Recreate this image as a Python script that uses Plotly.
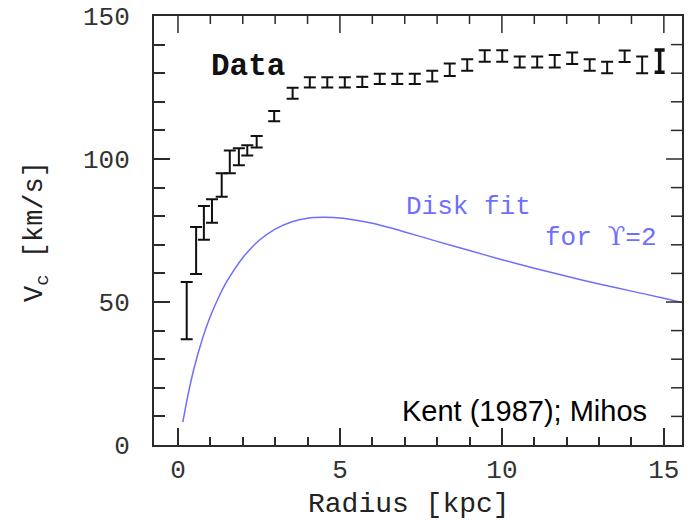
import plotly.graph_objects as go

# Rotation curve data (Radius [kpc], V_c [km/s], error)
radius = [0.27, 0.56, 0.80, 1.05, 1.35, 1.60, 1.88, 2.14, 2.43, 2.97, 3.54,
          4.07, 4.61, 5.15, 5.69, 6.23, 6.77, 7.31, 7.85, 8.39, 8.93, 9.47,
          10.01, 10.55, 11.09, 11.63, 12.17, 12.71, 13.25, 13.79, 14.33, 14.87]
vel = [47.0, 68.0, 77.7, 81.8, 90.9, 99.0, 100.8, 103.0, 106.0, 115.0, 123.0,
       126.8, 126.8, 126.8, 127.0, 128.0, 128.0, 128.0, 129.0, 131.2, 132.9, 136.0,
       136.0, 133.9, 133.9, 134.2, 135.2, 132.9, 132.0, 135.9, 132.9, 134.2]
err = [10.0, 8.2, 5.9, 4.1, 4.1, 4.0, 3.0, 1.8, 2.0, 1.8, 1.9,
       1.8, 1.8, 1.8, 1.8, 1.8, 1.8, 1.8, 1.9, 2.2, 2.0, 2.0,
       2.0, 1.9, 1.9, 2.2, 2.0, 2.0, 2.0, 2.0, 2.9, 3.9]

# Disk fit curve
fit_r = [0.15, 0.3, 0.5, 0.75, 1.0, 1.25, 1.5, 2.0, 2.5, 3.0, 3.5, 4.0, 4.5,
         5.0, 5.5, 6.0, 7.0, 8.0, 9.0, 10.0, 11.0, 12.0, 13.0, 14.0, 15.0, 15.56]
fit_v = [8.0, 17.0, 27.0, 37.0, 45.0, 51.5, 57.0, 65.5, 71.5, 75.5, 78.0, 79.3, 79.6,
         79.4, 78.6, 77.5, 74.5, 71.2, 68.0, 64.8, 61.8, 59.0, 56.3, 53.8, 51.3, 49.8]

x_ticks = [0, 5, 10, 15]
y_ticks = [0, 50, 100, 150]
x_minor = [1, 2, 3, 4, 6, 7, 8, 9, 11, 12, 13, 14]
y_minor = [10, 20, 30, 40, 60, 70, 80, 90, 110, 120, 130, 140]
x_range = [-0.74, 15.56]
y_range = [0, 150]

AX = "#2b2b2b"
BLUE = "#6e6eff"
MONO = "Liberation Mono"

# page offset (browser body margin) and desired plot box in page pixels
OX, OY = 8, 8
W, H = 695, 520
PL, PR, PT, PB = 154, 682, 16, 445
L, T = PL - OX, PT - OY
R, B = W - (PR - OX), H - (PB - OY)
pw, ph = PR - PL, PB - PT

fig = go.Figure()

fig.add_trace(go.Scatter(
    x=fit_r, y=fit_v, mode="lines", line=dict(color=BLUE, width=1.5, shape="spline", smoothing=0.6),
    showlegend=False, hoverinfo="skip"))

fig.add_trace(go.Scatter(
    x=radius[:-1], y=vel[:-1], mode="markers",
    marker=dict(size=1, color="rgba(0,0,0,0)"),
    error_y=dict(type="data", array=err[:-1], visible=True, color="#111111",
                 thickness=2, width=6),
    showlegend=False))
fig.add_trace(go.Scatter(
    x=radius[-1:], y=vel[-1:], mode="markers",
    marker=dict(size=1, color="rgba(0,0,0,0)"),
    error_y=dict(type="data", array=err[-1:], visible=True, color="#111111",
                 thickness=3.5, width=5),
    showlegend=False))

# top and right tick marks (mirrors of bottom/left axis ticks), drawn in axis units
ypx = (y_range[1] - y_range[0]) / ph   # data units per pixel (y)
xpx = (x_range[1] - x_range[0]) / pw   # data units per pixel (x)
tx, ty = [], []
for xv in x_ticks:
    tx += [xv, xv, None]
    ty += [y_range[1], y_range[1] - 17 * ypx, None]
for xv in x_minor:
    tx += [xv, xv, None]
    ty += [y_range[1], y_range[1] - 8 * ypx, None]
for yv in y_ticks[1:-1]:
    tx += [x_range[1], x_range[1] - 16 * xpx, None]
    ty += [yv, yv, None]
for yv in y_minor:
    tx += [x_range[1], x_range[1] - 11 * xpx, None]
    ty += [yv, yv, None]
fig.add_trace(go.Scatter(x=tx, y=ty, mode="lines", line=dict(color=AX, width=1.5),
                         showlegend=False, hoverinfo="skip", cliponaxis=False))

fig.update_layout(
    width=W, height=H,
    margin=dict(l=L, r=R, t=T, b=B, autoexpand=False),
    paper_bgcolor="white", plot_bgcolor="white",
    font=dict(family=MONO, color="#333333"),
)

fig.update_xaxes(
    range=x_range, tickvals=x_ticks, ticktext=[str(v) for v in x_ticks],
    showgrid=False, zeroline=False, showline=True, linecolor=AX, linewidth=2,
    mirror=True, ticks="inside", ticklen=17, tickwidth=1.5, tickcolor=AX,
    tickfont=dict(family=MONO, size=26, color="#333333"), ticklabelstandoff=0,
    ticklabeloverflow="allow", automargin=False,
    minor=dict(dtick=1, tick0=0, ticks="inside", ticklen=8, tickwidth=1.5, tickcolor=AX),
)
fig.update_yaxes(
    range=y_range, tickvals=y_ticks, ticktext=[str(v) for v in y_ticks],
    showgrid=False, zeroline=False, showline=True, linecolor=AX, linewidth=2,
    mirror=True, ticks="inside", ticklen=16, tickwidth=1.5, tickcolor=AX,
    tickfont=dict(family=MONO, size=26, color="#333333"), ticklabelstandoff=17,
    ticklabeloverflow="allow", automargin=False,
    minor=dict(dtick=10, tick0=0, ticks="inside", ticklen=11, tickwidth=1.5, tickcolor=AX),
)

fig.add_annotation(x=409, y=505, text="Radius [kpc]",
                   showarrow=False, font=dict(family=MONO, size=28, color="#222222"))
fig.add_annotation(x=37, y=232, text="V<sub>c</sub> [km/s]", textangle=-90,
                   showarrow=False, font=dict(family=MONO, size=27, color="#222222"))
fig.add_annotation(x=248, y=66, text="<b>Data</b>", showarrow=False,
                   font=dict(family=MONO, size=31, color="#111111"))
fig.add_annotation(x=468, y=207, text="Disk fit", showarrow=False,
                   font=dict(family=MONO, size=26, color=BLUE))
fig.add_annotation(x=601, y=237,
                   text="for <span style='font-family:DejaVu Serif'>ϒ</span>=2",
                   showarrow=False, font=dict(family=MONO, size=26, color=BLUE))
fig.add_annotation(x=524, y=411, text="Kent (1987); Mihos", showarrow=False,
                   font=dict(family="Liberation Sans", size=29, color="#000000"))

# convert page pixel positions of annotations to paper coordinates
for a in fig.layout.annotations:
    px, py = a.x, a.y
    a.xref = "paper"
    a.yref = "paper"
    a.x = (px - PL) / pw
    a.y = (PB - py) / ph
    a.xanchor = "center"
    a.yanchor = "middle"

fig.write_html("out.html")
